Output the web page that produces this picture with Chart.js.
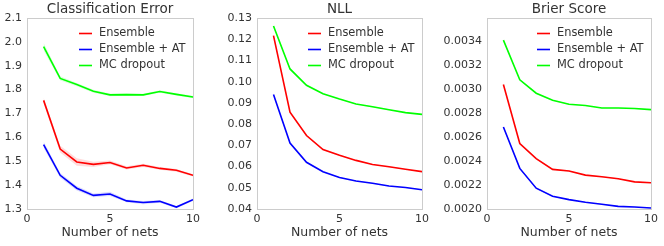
<!DOCTYPE html>
<html><head><meta charset="utf-8">
<script src="https://cdn.jsdelivr.net/npm/chart.js@4/dist/chart.umd.min.js"></script>
<style>
html,body{margin:0;padding:0;background:#fff;}
#wrap{position:relative;width:664px;height:246px;overflow:hidden;}
.p{position:absolute;top:0;height:246px;}
</style></head><body>
<div id="wrap">
<div class="p" style="left:0;width:215px"><canvas id="c1"></canvas></div>
<div class="p" style="left:215px;width:225px"><canvas id="c2"></canvas></div>
<div class="p" style="left:440px;width:224px"><canvas id="c3"></canvas></div>
</div>
<script>
const nets = [1,2,3,4,5,6,7,8,9,10];
const seriesNames = ['Ensemble','Ensemble + AT','MC dropout'];
const xTicks = [0,5,10];

const errEnsemble = [1.755,1.551,1.497,1.487,1.495,1.472,1.483,1.470,1.462,1.441];
const errEnsembleAT = [1.570,1.441,1.387,1.357,1.363,1.334,1.327,1.332,1.308,1.339];
const errMC = [1.980,1.847,1.821,1.793,1.778,1.779,1.778,1.792,1.780,1.769];
const errEnsembleStd = [0.012,0.014,0.016,0.011,0.008,0.007,0.007,0.006,0.006,0.005];
const errEnsembleATStd = [0.013,0.010,0.009,0.008,0.009,0.006,0.007,0.006,0.005,0.005];
const errMCStd = [0.016,0.009,0.007,0.006,0.006,0.005,0.005,0.005,0.005,0.005];

const nllEnsemble = [0.1217,0.0856,0.0746,0.0680,0.0653,0.0629,0.0610,0.0599,0.0587,0.0576];
const nllEnsembleAT = [0.0939,0.0711,0.0620,0.0576,0.0548,0.0532,0.0521,0.0508,0.0501,0.0491];
const nllMC = [0.1262,0.1060,0.0983,0.0943,0.0918,0.0895,0.0882,0.0868,0.0854,0.0846];
const nllEnsembleStd = [0.0008,0.0005,0.0004,0.0003,0.0003,0.0002,0.0002,0.0002,0.0002,0.0002];
const nllEnsembleATStd = [0.0008,0.0004,0.0003,0.0003,0.0002,0.0002,0.0002,0.0002,0.0002,0.0002];
const nllMCStd = [0.0006,0.0004,0.0003,0.0002,0.0002,0.0002,0.0002,0.0002,0.0002,0.0002];

const brierEnsemble = [0.003037,0.002545,0.002419,0.002330,0.002316,0.002282,0.002268,0.002252,0.002226,0.002218];
const brierEnsembleAT = [0.002682,0.002338,0.002173,0.002106,0.002078,0.002056,0.002039,0.002022,0.002017,0.002008];
const brierMC = [0.003406,0.003076,0.002964,0.002905,0.002872,0.002861,0.002841,0.002841,0.002836,0.002827];
const brierEnsembleStd = [0.000012,0.000008,0.000006,0.000005,0.000004,0.000004,0.000004,0.000003,0.000003,0.000003];
const brierEnsembleATStd = [0.000012,0.000008,0.000006,0.000005,0.000004,0.000004,0.000004,0.000003,0.000003,0.000003];
const brierMCStd = [0.000010,0.000006,0.000005,0.000004,0.000004,0.000003,0.000003,0.000003,0.000003,0.000003];

const yTicks1 = [1.3,1.4,1.5,1.6,1.7,1.8,1.9,2.0,2.1];
const yTicks2 = [0.04,0.05,0.06,0.07,0.08,0.09,0.10,0.11,0.12,0.13];
const yTicks3 = [0.0020,0.0022,0.0024,0.0026,0.0028,0.0030,0.0032,0.0034];

const colors = ['#ff0000','#0000ff','#00ff00'];
const bandColors = ['rgba(255,0,0,0.14)','rgba(0,0,255,0.14)','rgba(0,255,0,0.14)'];
const FONT = "'DejaVu Sans', sans-serif";
const TXT = '#333333';

const boxPlugin = {
  id:'box',
  afterDraw(chart){
    const a = chart.chartArea, ctx = chart.ctx;
    ctx.save();
    ctx.strokeStyle = '#cccccc'; ctx.lineWidth = 1;
    ctx.strokeRect(Math.round(a.left)+0.5, Math.round(a.top)+0.5, Math.round(a.right-a.left), Math.round(a.bottom-a.top));
    const items = chart.data.datasets.filter(d=>d.legend);
    ctx.font = "11.4px " + FONT;
    const tx = a.right - 94;
    items.forEach((d,i)=>{
      const y = a.top + 15.5 + i*16;
      ctx.strokeStyle = d.borderColor; ctx.lineWidth = 1.6;
      ctx.beginPath(); ctx.moveTo(tx-20, y); ctx.lineTo(tx-7, y); ctx.stroke();
      ctx.fillStyle = TXT; ctx.textBaseline = 'middle'; ctx.textAlign='left';
      ctx.fillText(d.label, tx, y);
    });
    ctx.restore();
  }
};

function pts(arr){ return nets.map((n,i)=>({x:n,y:arr[i]})); }
function shifted(arr,std,s){ return nets.map((n,i)=>({x:n,y:arr[i]+s*std[i]})); }

function makeChart(id, title, means, stds, yTicks, decimals, yMax, yAxisW, padRight){
  const ds = [];
  means.forEach((m,k)=>{
    ds.push({label:'lo'+k, data:shifted(m,stds[k],-1), borderWidth:0, pointRadius:0, fill:false, backgroundColor:bandColors[k], order:5});
    ds.push({label:'hi'+k, data:shifted(m,stds[k],1), borderWidth:0, pointRadius:0, fill:'-1', backgroundColor:bandColors[k], order:5});
  });
  means.forEach((m,k)=>{
    ds.push({label:seriesNames[k], legend:true, data:pts(m), borderColor:colors[k], borderWidth:1.6, pointRadius:0, fill:false, tension:0, order:1});
  });
  return new Chart(document.getElementById(id), {
    type:'line',
    data:{datasets:ds},
    plugins:[boxPlugin],
    options:{
      responsive:true, maintainAspectRatio:false, animation:false,
      layout:{padding:{left:0,right:padRight,top:0,bottom:0}},
      plugins:{
        legend:{display:false}, tooltip:{enabled:false},
        title:{display:true, fullSize:false, text:title, color:TXT, font:{family:FONT,size:13.5,weight:'normal',lineHeight:1.2}, padding:{top:1.8,bottom:0}}
      },
      scales:{
        x:{type:'linear', min:0, max:10,
          grid:{display:false, drawTicks:false, tickLength:0}, border:{display:false},
          afterBuildTicks(s){ s.ticks = xTicks.map(v=>({value:v})); },
          afterFit(s){ s.height = 37; },
          ticks:{color:TXT, font:{family:FONT,size:11}, padding:4, maxRotation:0, callback:v=>String(v)},
          title:{display:true, text:'Number of nets', color:TXT, font:{family:FONT,size:12.5,lineHeight:1.2}, padding:{top:0,bottom:5.5}}
        },
        y:{type:'linear', min:yTicks[0], max:yMax,
          grid:{display:false, drawTicks:false, tickLength:0}, border:{display:false},
          afterBuildTicks(s){ s.ticks = yTicks.map(v=>({value:v})); },
          afterFit(s){ s.width = yAxisW; },
          ticks:{color:TXT, font:{family:FONT,size:11}, padding:5, callback:v=>Number(v).toFixed(decimals)}
        }
      }
    }
  });
}

makeChart('c1','Classification Error',[errEnsemble,errEnsembleAT,errMC],[errEnsembleStd,errEnsembleATStd,errMCStd],yTicks1,1,2.1,27,22);
makeChart('c2','NLL',[nllEnsemble,nllEnsembleAT,nllMC],[nllEnsembleStd,nllEnsembleATStd,nllMCStd],yTicks2,2,0.13,42,18);
makeChart('c3','Brier Score',[brierEnsemble,brierEnsembleAT,brierMC],[brierEnsembleStd,brierEnsembleATStd,brierMCStd],yTicks3,4,0.00359,47,13);
</script>
</body></html>
